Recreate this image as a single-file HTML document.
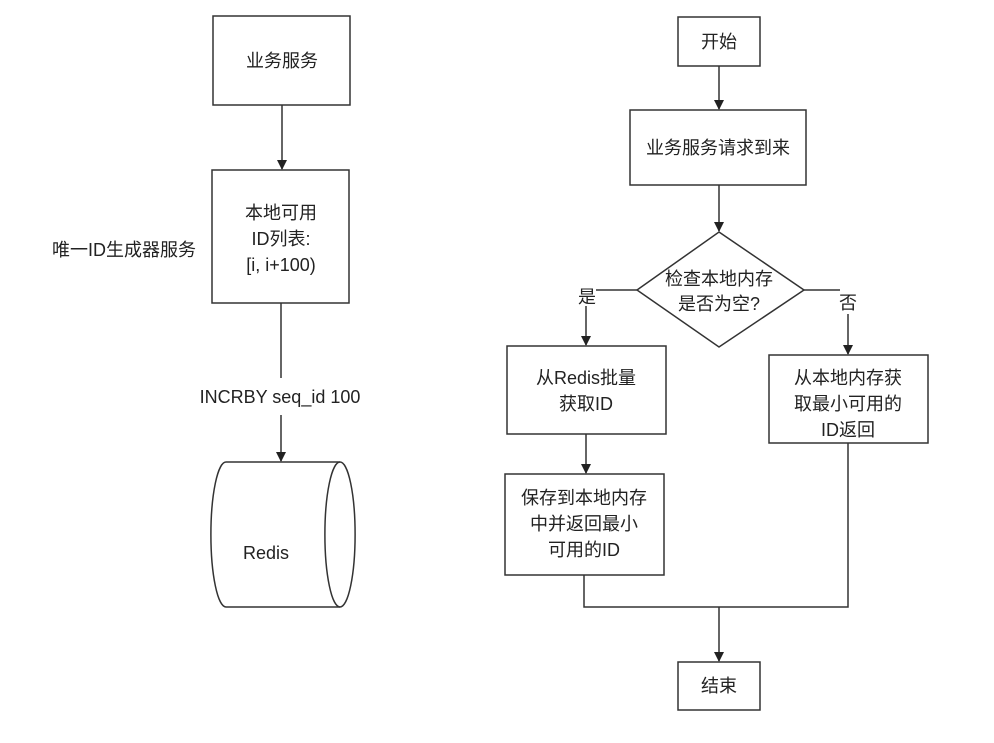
<!DOCTYPE html>
<html><head><meta charset="utf-8"><style>
html,body{margin:0;padding:0;background:#fff;}
svg text{font-family:"Liberation Sans","Noto Sans CJK SC",sans-serif;font-size:18px;fill:#222;}
</style></head><body>
<svg width="994" height="738" viewBox="0 0 994 738" xmlns="http://www.w3.org/2000/svg">
<defs><marker id="a" markerWidth="10" markerHeight="10" refX="9" refY="5" orient="auto" markerUnits="userSpaceOnUse"><path d="M0,0 L10,5 L0,10 z" fill="#222"/></marker></defs>
<g stroke="#333" stroke-width="1.5" fill="none">
<rect x="213" y="16" width="137" height="89"/>
<line x1="282" y1="105" x2="282" y2="169" marker-end="url(#a)"/>
<rect x="212" y="170" width="137" height="133"/>
<line x1="281" y1="303" x2="281" y2="378"/>
<line x1="281" y1="415" x2="281" y2="461" marker-end="url(#a)"/>
<path d="M226,462 L340,462 A15,72 0 0 1 340,607 L226,607 A15,72 0 0 1 226,462 Z"/>
<path d="M340,462 A15,72 0 0 0 340,607"/>

<rect x="678" y="17" width="82" height="49"/>
<line x1="719" y1="66" x2="719" y2="109" marker-end="url(#a)"/>
<rect x="630" y="110" width="176" height="75"/>
<line x1="719" y1="185" x2="719" y2="231" marker-end="url(#a)"/>
<polygon points="719,232 804,290 719,347 637,290"/>
<polyline points="637,290 596,290"/>
<line x1="586" y1="306" x2="586" y2="345" marker-end="url(#a)"/>
<rect x="507" y="346" width="159" height="88"/>
<line x1="586" y1="434" x2="586" y2="473" marker-end="url(#a)"/>
<rect x="505" y="474" width="159" height="101"/>
<polyline points="804,290 840,290"/>
<line x1="848" y1="314" x2="848" y2="354" marker-end="url(#a)"/>
<rect x="769" y="355" width="159" height="88"/>
<polyline points="584,575 584,607 848,607 848,443"/>
<line x1="719" y1="607" x2="719" y2="661" marker-end="url(#a)"/>
<rect x="678" y="662" width="82" height="48"/>
</g>
<g text-anchor="middle">
<text x="282" y="67">业务服务</text>
<text x="281" y="219">本地可用</text>
<text x="281" y="245">ID列表:</text>
<text x="281" y="271">[i, i+100)</text>
<text x="124" y="256">唯一ID生成器服务</text>
<text x="280" y="403">INCRBY seq_id 100</text>
<text x="266" y="559">Redis</text>
<text x="719" y="48">开始</text>
<text x="718" y="154">业务服务请求到来</text>
<text x="719" y="285">检查本地内存</text>
<text x="719" y="310">是否为空?</text>
<text x="587" y="303">是</text>
<text x="848" y="309">否</text>
<text x="586" y="384">从Redis批量</text>
<text x="586" y="410">获取ID</text>
<text x="584" y="504">保存到本地内存</text>
<text x="584" y="530">中并返回最小</text>
<text x="584" y="556">可用的ID</text>
<text x="848" y="384">从本地内存获</text>
<text x="848" y="410">取最小可用的</text>
<text x="848" y="436">ID返回</text>
<text x="719" y="692">结束</text>
</g>
</svg>
</body></html>
